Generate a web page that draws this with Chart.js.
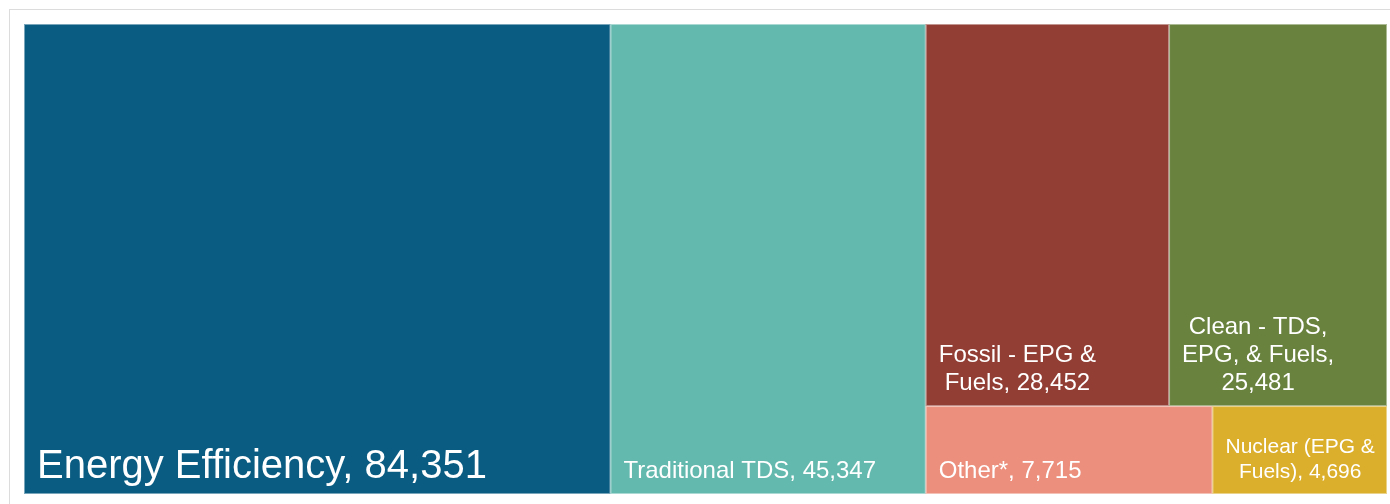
<!DOCTYPE html>
<html>
<head>
<meta charset="utf-8">
<title>Treemap</title>
<script src="https://cdn.jsdelivr.net/npm/chart.js@4.4.1/dist/chart.umd.min.js"></script>
<style>
  html, body { margin:0; padding:0; background:#fff; overflow:hidden; }
  #frame { position:absolute; left:9px; top:9px; width:1420px; height:540px; border-left:1px solid #dcdcdc; border-top:1px solid #dcdcdc; }
  #box { position:absolute; left:0; top:0; width:1390px; height:504px; }
</style>
</head>
<body>
<div id="frame"></div>
<div id="box"><canvas id="c"></canvas></div>
<script>
// ---- data ----
const categories = ["Energy Efficiency", "Traditional TDS", "Fossil - EPG & Fuels", "Clean - TDS, EPG, & Fuels", "Other*", "Nuclear (EPG & Fuels)"];
const values = [84351, 45347, 28452, 25481, 7715, 4696];

// ---- styles ----
const tileColors = ["#0a5c82", "#64b9ae", "#923e34", "#69823d", "#ec8f7c", "#dbae2b"];
const labelSizes = [40, 24, 24, 24, 24, 21];
const labelWrapWidths = [Infinity, Infinity, 160, 160, Infinity, 155];
const FONT = '"Liberation Sans", Arial, sans-serif';

function fmt(n) { return String(n).replace(/\B(?=(\d{3})+(?!\d))/g, ","); }

// squarified treemap layout, returns fractional boxes (0..1) for each value
function squarify(vals, W, H) {
  const total = vals.reduce((a, b) => a + b, 0);
  const k = (W * H) / total;
  const order = vals.map((v, i) => i).sort((a, b) => vals[b] - vals[a]);
  const out = new Array(vals.length);
  let x = 0, y = 0, w = W, h = H, i = 0;
  const worst = (areas, side) => {
    const s = areas.reduce((a, b) => a + b, 0);
    let m = 0;
    for (const a of areas) m = Math.max(m, (side * side * a) / (s * s), (s * s) / (side * side * a));
    return m;
  };
  while (i < order.length) {
    const side = Math.min(w, h);
    const areas = [vals[order[i]] * k];
    let best = worst(areas, side);
    let j = i + 1;
    while (j < order.length) {
      const cand = worst(areas.concat([vals[order[j]] * k]), side);
      if (cand <= best) { areas.push(vals[order[j]] * k); best = cand; j++; } else break;
    }
    const rowArea = areas.reduce((a, b) => a + b, 0);
    if (w >= h) {
      const cw = rowArea / h; let yy = y;
      for (let n = i; n < j; n++) { const rh = areas[n - i] / cw; out[order[n]] = { x0: x, x1: x + cw, y0: yy, y1: yy + rh }; yy += rh; }
      x += cw; w -= cw;
    } else {
      const rh = rowArea / w; let xx = x;
      for (let n = i; n < j; n++) { const cw = areas[n - i] / rh; out[order[n]] = { x0: xx, x1: xx + cw, y0: y, y1: y + rh }; xx += cw; }
      y += rh; h -= rh;
    }
    i = j;
  }
  return out.map(b => ({ x0: b.x0 / W, x1: b.x1 / W, y0: b.y0 / H, y1: b.y1 / H }));
}

class TileElement extends Chart.Element {
  draw(ctx) {
    const { x, y, width, height, options } = this;
    if (!(width > 0 && height > 0)) return;
    ctx.save();
    ctx.fillStyle = options.backgroundColor;
    ctx.fillRect(x, y, width, height);
    if (options.borderWidth) {
      ctx.strokeStyle = options.borderColor;
      ctx.lineWidth = options.borderWidth;
      ctx.strokeRect(x + 0.5, y + 0.5, width - 1, height - 1);
    }
    ctx.restore();
  }
  inRange(mx, my) { return mx >= this.x && mx <= this.x + this.width && my >= this.y && my <= this.y + this.height; }
  inXRange(mx) { return mx >= this.x && mx <= this.x + this.width; }
  inYRange(my) { return my >= this.y && my <= this.y + this.height; }
  getCenterPoint() { return { x: this.x + this.width / 2, y: this.y + this.height / 2 }; }
  tooltipPosition() { return this.getCenterPoint(); }
}
TileElement.id = 'tile';
TileElement.defaults = { backgroundColor: '#999', borderColor: 'rgba(255,255,255,0.45)', borderWidth: 1 };

class SquarifyController extends Chart.DatasetController {
  parse(start, count) {
    const data = this.getDataset().data;
    const meta = this._cachedMeta;
    for (let i = start; i < start + count; i++) meta._parsed[i] = { x: i, y: +data[i] };
  }
  getMinMax() { return { min: 0, max: 1 }; }
  update(mode) {
    const meta = this._cachedMeta;
    this.updateElements(meta.data, 0, meta.data.length, mode);
  }
  updateElements(tiles, start, count, mode) {
    const meta = this._cachedMeta;
    const xs = meta.xScale, ys = meta.yScale;
    const W = Math.abs(xs.right - xs.left) || 1, H = Math.abs(ys.bottom - ys.top) || 1;
    const vals = meta._parsed.map(p => p.y);
    const boxes = squarify(vals, W, H);
    for (let i = start; i < start + count; i++) {
      const b = boxes[i];
      const px0 = xs.getPixelForValue(b.x0), px1 = xs.getPixelForValue(b.x1);
      const py0 = ys.getPixelForValue(b.y0), py1 = ys.getPixelForValue(b.y1);
      const props = {
        x: Math.min(px0, px1), y: Math.min(py0, py1),
        width: Math.abs(px1 - px0), height: Math.abs(py1 - py0),
        options: this.resolveDataElementOptions(i, mode)
      };
      this.updateElement(tiles[i], i, props, mode);
    }
  }
  draw() {
    super.draw();
    const ctx = this._ctx;
    const ds = this.getDataset();
    const labels = this.chart.data.labels;
    this._cachedMeta.data.forEach((el, i) => {
      const size = labelSizes[i];
      const text = labels[i] + ", " + fmt(ds.data[i]);
      ctx.save();
      ctx.font = size + "px " + FONT;
      ctx.fillStyle = "#ffffff";
      ctx.textBaseline = "alphabetic";
      // greedy wrap
      const maxW = labelWrapWidths[i];
      const words = text.split(" ");
      const lines = [];
      let cur = "";
      for (const wd of words) {
        const t = cur ? cur + " " + wd : wd;
        if (cur && ctx.measureText(t).width > maxW) { lines.push(cur); cur = wd; } else cur = t;
      }
      if (cur) lines.push(cur);
      const widths = lines.map(l => ctx.measureText(l).width);
      const blockW = Math.max(...widths);
      const lh = size * 1.17;
      const left = el.x + 13;
      const lastBase = el.y + el.height - 16;
      ctx.textAlign = "center";
      lines.forEach((l, n) => {
        ctx.fillText(l, left + blockW / 2, lastBase - (lines.length - 1 - n) * lh);
      });
      ctx.restore();
    });
  }
}
SquarifyController.id = 'squarify';
SquarifyController.defaults = { datasetElementType: false, dataElementType: 'tile' };
SquarifyController.overrides = {};

Chart.register(TileElement, SquarifyController);

new Chart(document.getElementById('c'), {
  type: 'squarify',
  data: {
    labels: categories,
    datasets: [{
      label: 'Employment',
      data: values,
      backgroundColor: tileColors,
      borderColor: 'rgba(255,255,255,0.45)',
      borderWidth: 1
    }]
  },
  options: {
    responsive: true,
    maintainAspectRatio: false,
    animation: false,
    events: [],
    layout: { padding: { left: 24, top: 24, right: 3, bottom: 10 } },
    scales: {
      x: { type: 'linear', min: 0, max: 1, display: false },
      y: { type: 'linear', min: 0, max: 1, reverse: true, display: false }
    },
    plugins: { legend: { display: false }, tooltip: { enabled: false } }
  }
});
</script>
</body>
</html>
